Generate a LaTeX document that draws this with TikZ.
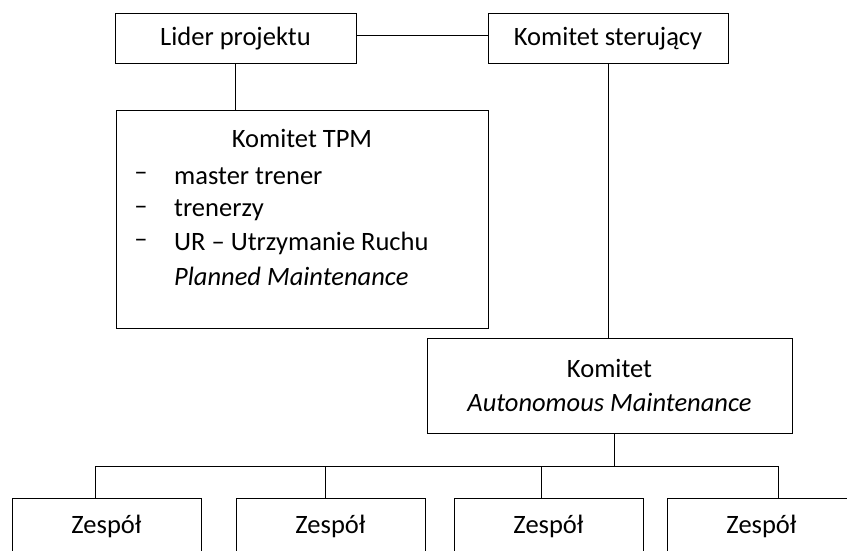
\documentclass[tikz,border=0pt]{standalone}
\usepackage{fontspec}
\setmainfont{Carlito}
\tikzset{
  box/.style={draw, line width=1pt, inner sep=0pt, align=center},
  zespol/.style={box, anchor=base, minimum width=189pt, text height=35.5pt, text depth=40pt},
  item/.style={inner sep=0pt, anchor=west},
  link/.style={line width=1pt},
}
\begin{document}
\begin{tikzpicture}[x=1pt, y=-1pt, font=\fontsize{26.5}{34}\selectfont]
    \useasboundingbox (0,0) rectangle (847,551);
    \clip (0,0) rectangle (847,551);
    % gora
    \node[box, minimum width=241pt, minimum height=50pt] (lider) at (235.5,39) {Lider projektu};
    \node[box, minimum width=240pt, minimum height=50pt] (sterujacy) at (608,39) {Komitet sterujący};
    % komitet TPM
    \node[box, minimum width=372pt, minimum height=217pt] (tpm) at (302,219.5) {};
    \node (tpmtitle) at (302,138) {Komitet TPM};
    \foreach \y/\txt [count=\i] in {176/master trener, 210/trenerzy, 243/UR – Utrzymanie Ruchu} {
        \node[inner sep=0pt] (dash\i) at (141,\y) {–};
        \node[item] (item\i) at (174,\y) {\txt};
    }
    \node[item] (item4) at (174,276) {\textit{Planned Maintenance}};
    % komitet AM i zespoly
    \node[box, minimum width=365pt, minimum height=95pt] (am) at (609.5,385.5) {Komitet\\\textit{Autonomous Maintenance}};
    \foreach \x [count=\i] in {106.5,330.5,548.5,761.5} \node[zespol] (z\i) at (\x,533.5) {Zespół};
    \coordinate (bus) at (614,466);
    \foreach \x [count=\i] in {95,325,541,778} \coordinate (d\i) at (\x,498);
    % polaczenia
    \draw[link] ([yshift=3pt]lider.east) -- ([yshift=3pt]sterujacy.west);
    \draw[link] (lider.south) -- (lider.south |- tpm.north);
    \draw[link] (sterujacy.south) -- (sterujacy.south |- am.north);
    \draw[link] (bus) -- (bus |- am.south);
    \draw[link] (d1 |- bus) -- (d4 |- bus);
    \foreach \i in {1,...,4} \draw[link] (d\i |- bus) -- (d\i);
\end{tikzpicture}
\end{document}
